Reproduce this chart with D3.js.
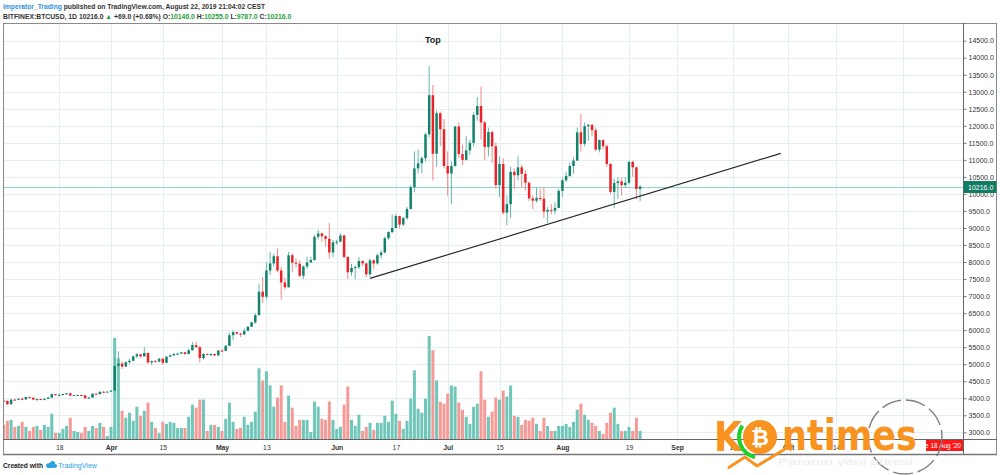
<!DOCTYPE html>
<html><head><meta charset="utf-8">
<script src="https://cdn.jsdelivr.net/npm/d3@7"></script>
<style>html,body{margin:0;padding:0;background:#fff;}svg{display:block;}</style>
</head><body>
<svg id="c" width="1000" height="475"></svg>
<script>
// ---------- DATA (BITFINEX:BTCUSD daily, 2019-03-03 .. 2019-08-22) ----------
const startDate = "2019-03-03";
const opens = [
 3930,3920,3825,3960,3955,3985,3965,4035,4015,3960,3975,3965,3980,4020,4120,4095,4100,4125,4145,4080,4090,4095,4085,4000,4020,4135,4120,4190,4180,
 4195,4225,4950,5020,4930,5060,5100,5230,5290,5230,5330,5050,5090,5080,5160,5040,5220,5260,5300,5310,5350,5300,5410,5560,5500,5180,5300,5290,5300,5260,
 5400,5390,5540,5850,5940,5900,5870,5980,6100,6230,6440,7130,6980,7750,7960,8170,7750,7400,7260,8200,7980,7950,7600,7870,7990,8060,8740,8840,8760,8680,8280,
 8580,8600,8780,8150,7700,7830,7850,8030,7960,7640,8050,7960,8200,8280,8700,8880,9000,9350,9100,9290,9560,10200,10750,10900,11050,11750,12900,11180,12370,11900,
 10820,10600,10820,11980,11170,11000,11280,11500,12320,12580,12100,11380,11820,11400,10260,10880,9450,9700,10650,10550,10780,10590,10330,9870,9800,9880,9860,9480,9530,9510,9590,
 10090,10400,10530,10820,10980,11810,11470,11990,12030,11870,11300,11580,11400,10880,10060,10320,10370,10260,10330,10940,10780,10146
];
const highs = [
 3950,3940,3975,3990,4000,4030,4045,4040,4025,3995,3990,4010,4030,4140,4125,4140,4135,4155,4160,4100,4105,4100,4095,4030,4140,4145,4200,4210,4200,
 4240,5200,5380,5080,5080,5160,5260,5330,5300,5500,5350,5110,5120,5180,5190,5240,5290,5330,5340,5370,5360,5460,5650,5660,5540,5330,5320,5320,5310,5420,
 5440,5560,5930,6000,5960,5920,6050,6120,6250,6500,7350,7560,8000,8300,8250,8400,7850,7550,8300,8250,8100,8050,7900,8150,8150,8800,8950,8860,8780,9150,8650,
 8650,8850,8800,8170,7950,7900,8150,8050,7980,8100,8080,8250,8350,8750,8900,9400,9420,9360,9320,9620,10250,11250,11300,11100,11800,13760,13200,12450,12420,12200,
 11250,10950,12000,12100,11450,11700,11600,12400,12850,13150,12150,11950,11850,11500,11100,11050,9950,10800,10750,11100,10850,10700,10350,9950,10180,10150,10200,9620,9700,9750,10150,
 10480,10650,10920,11080,11950,12350,12100,12060,12050,11950,11600,11600,11450,10900,10450,10500,10480,10500,10980,10980,10800,10255
];
const lows = [
 3890,3800,3815,3935,3945,3940,3960,3995,3945,3930,3950,3940,3975,4015,4075,4070,4085,4100,4050,4070,4080,4070,3970,3990,4015,4110,4110,4170,4175,
 4180,4215,4900,4860,4920,5010,5090,5180,5180,5220,5010,4970,5060,5050,4980,5030,5210,5250,5260,5300,5270,5290,5400,5480,5050,5130,5270,5240,5230,5250,
 5370,5380,5530,5700,5860,5800,5860,5960,6090,6180,6430,6800,6900,7620,7860,7700,6900,7200,7250,7700,7850,7550,7500,7800,7980,8040,8660,8600,8450,8100,8150,
 8500,8580,8100,7500,7600,7500,7800,7880,7550,7560,7800,7920,8100,8250,8650,8850,8990,8980,9050,9240,9540,10050,10600,10600,10950,11650,10400,10800,11400,10750,
 9950,9700,10800,11050,10850,10980,11150,11400,12150,11600,11000,11100,10900,10150,9900,9400,9080,9300,10150,10400,10200,10100,9800,9550,9750,9800,9300,9150,9400,9400,9580,
 9900,10350,10500,10600,10970,11250,11400,11550,11700,11250,11220,11300,10800,10000,9580,9850,9950,10180,10280,10500,9850,9787
];
const closes = [
 3920,3825,3960,3955,3985,3965,4035,4015,3960,3975,3965,3980,4020,4120,4095,4100,4125,4145,4080,4090,4095,4085,4000,4020,4135,4120,4190,4180,4195,
 4225,4950,5020,4930,5060,5100,5230,5290,5230,5330,5050,5090,5080,5160,5040,5220,5260,5300,5310,5350,5300,5410,5560,5500,5180,5300,5290,5300,5260,5400,
 5390,5540,5850,5940,5900,5870,5980,6100,6230,6440,7130,6980,7750,7960,8170,7750,7400,7260,8200,7980,7950,7600,7870,7990,8060,8740,8840,8760,8680,8280,8580,
 8600,8780,8150,7700,7830,7850,8030,7960,7640,8050,7960,8200,8280,8700,8880,9000,9350,9100,9290,9560,10200,10750,10900,11050,11750,12900,11180,12370,11900,10820,
 10600,10820,11980,11170,11000,11280,11500,12320,12580,12100,11380,11820,11400,10260,10880,9450,9700,10650,10550,10780,10590,10330,9870,9800,9880,9860,9480,9530,9510,9590,10090,
 10400,10530,10820,10980,11810,11470,11990,12030,11870,11300,11580,11400,10880,10060,10320,10370,10260,10330,10940,10780,10146,10216
];
const volumes = [ // thousands
 14,18,19,12,13,17,12,8,12,13,9,14,12,25,6,6,10,13,21,8,7,6,12,8,13,11,16,12,3,
 12,100,80,28,21,26,18,32,23,28,36,17,11,6,17,15,17,16,11,11,11,22,34,31,39,39,8,14,14,12,
 8,20,36,17,10,11,22,14,17,27,70,58,67,53,32,41,53,17,43,31,13,19,19,19,7,37,32,20,19,37,19,
 10,12,34,52,19,13,24,8,12,16,9,16,16,23,17,38,25,18,10,18,40,68,30,26,40,102,88,58,37,35,
 45,53,52,36,29,22,15,32,35,67,39,22,27,41,39,48,42,53,23,22,14,19,18,21,15,8,21,13,8,8,13,
 13,15,12,17,29,35,24,19,16,13,8,5,16,26,31,15,8,8,12,8,21,8
];
const priceTicks = [3000,3500,4000,4500,5000,5500,6000,6500,7000,7500,8000,8500,9000,9500,10000,10500,11000,11500,12000,12500,13000,13500,14000,14500];
const timeTickDates = ["2019-03-18","2019-04-01","2019-04-15","2019-05-01","2019-05-13","2019-06-01","2019-06-17","2019-07-01","2019-07-15","2019-08-01","2019-08-19","2019-09-01","2019-09-16","2019-10-01","2019-10-14"];
const timeTickLabels = ["18","Apr","15","May","13","Jun","17","Jul","15","Aug","19","Sep","16","Oct","14"];
const extraGridDates = ["2019-11-01"];
const trendDates = ["2019-06-10","2019-09-29"];
const trendValues = [7520, 11190];
const lastPrice = 10216.0;
const noteDate = "2019-06-27", noteValue = 14430, noteText = "Top";

// ---------- LAYOUT ----------
const svg = d3.select("#c");
const L = 3, R = 963, T = 23, B = 439, FR = 997, FB = 454;
const FONT = "'Liberation Sans', Arial, sans-serif";
const parse = s => new Date(s + "T00:00:00Z");
const x = d3.scaleUtc().domain([parse("2019-04-01"), parse("2019-10-01")]).range([111, 788.1]);
const y = d3.scaleLinear().domain([3000, 14500]).range([432.3, 40.7]);
const vy = d3.scaleLinear().domain([0, 100]).range([B, 338]);

const t0 = parse(startDate).getTime();
const data = opens.map((o, i) => ({
  date: new Date(t0 + i * 864e5), o, h: highs[i], l: lows[i], c: closes[i], v: volumes[i]
}));

const GREEN = "#11836a", RED = "#ec2229";
const GREEN_W = "#63b9a7", RED_W = "#f28686";
const VGREEN = "#70c6b8", VRED = "#f59a96";

svg.append("defs").append("clipPath").attr("id", "plot")
  .append("rect").attr("x", L).attr("y", T).attr("width", R - L).attr("height", B - T);

// grid
const grid = svg.append("g");
grid.selectAll("line.h").data(priceTicks).join("line")
  .attr("x1", L).attr("x2", R).attr("y1", d => Math.round(y(d)) + 0.5).attr("y2", d => Math.round(y(d)) + 0.5)
  .attr("stroke", "#e5eef4").attr("stroke-width", 1);
grid.selectAll("line.v").data(timeTickDates.concat(extraGridDates).map(parse)).join("line")
  .attr("x1", d => Math.round(x(d)) + 0.5).attr("x2", d => Math.round(x(d)) + 0.5)
  .attr("y1", T).attr("y2", B).attr("stroke", "#e5eef4").attr("stroke-width", 1);

const plot = svg.append("g").attr("clip-path", "url(#plot)");

// volume
plot.append("g").selectAll("rect").data(data).join("rect")
  .attr("x", d => x(d.date) - 1.5).attr("width", 3)
  .attr("y", d => vy(d.v)).attr("height", d => B - vy(d.v))
  .attr("fill", d => d.c >= d.o ? VGREEN : VRED);

// last price line (light teal, fine dotted)
const lpY = Math.round(y(lastPrice)) + 0.5;
plot.append("rect").attr("x", L).attr("y", lpY - 0.5).attr("width", R - L).attr("height", 1)
  .attr("fill", "#8fd6cb");

// candles
const cg = plot.append("g");
cg.selectAll("line").data(data).join("line")
  .attr("x1", d => x(d.date)).attr("x2", d => x(d.date))
  .attr("y1", d => y(d.h)).attr("y2", d => y(d.l))
  .attr("stroke", d => d.c >= d.o ? GREEN_W : RED_W).attr("stroke-width", 1);
cg.selectAll("rect").data(data).join("rect")
  .attr("x", d => x(d.date) - 1.25).attr("width", 2.5)
  .attr("y", d => y(Math.max(d.o, d.c)))
  .attr("height", d => Math.max(1, Math.abs(y(d.o) - y(d.c))))
  .attr("fill", d => d.c >= d.o ? GREEN : RED);

// trend line
svg.append("line")
  .attr("x1", x(parse(trendDates[0]))).attr("y1", y(trendValues[0]))
  .attr("x2", x(parse(trendDates[1]))).attr("y2", y(trendValues[1]))
  .attr("stroke", "#2a2a2a").attr("stroke-width", 1.2);

// note
svg.append("text").attr("x", x(parse(noteDate))).attr("y", y(noteValue))
  .attr("text-anchor", "middle").attr("font-family", FONT).attr("font-weight", "bold")
  .attr("font-size", 9).attr("fill", "#222").text(noteText);

// frame
svg.append("rect").attr("x", L + 0.5).attr("y", T + 0.5).attr("width", FR - L - 1).attr("height", FB - T)
  .attr("fill", "none").attr("stroke", "#8a8a8a").attr("stroke-width", 1);
svg.append("line").attr("x1", R + 0.5).attr("x2", R + 0.5).attr("y1", T).attr("y2", FB)
  .attr("stroke", "#666");
svg.append("line").attr("x1", L).attr("x2", FR).attr("y1", B + 0.5).attr("y2", B + 0.5)
  .attr("stroke", "#666");
svg.append("line").attr("x1", L).attr("x2", FR).attr("y1", FB + 0.5).attr("y2", FB + 0.5)
  .attr("stroke", "#777").attr("stroke-width", 1.5);

// price axis
const ya = svg.append("g").attr("transform", `translate(${R + 0.5},0)`)
  .call(d3.axisRight(y).tickValues(priceTicks).tickSize(3).tickPadding(2).tickFormat(d3.format(".1f")));
ya.select(".domain").remove();
ya.selectAll("line").attr("stroke", "#777");
ya.selectAll("text").attr("font-family", FONT).attr("font-size", 7).attr("fill", "#333");

// last price label
svg.append("rect").attr("x", R + 0.5).attr("y", lpY - 6.5).attr("width", FR - R - 1).attr("height", 12)
  .attr("fill", "#127c63");
svg.append("text").attr("x", R + 5).attr("y", lpY + 2.5).attr("font-family", FONT)
  .attr("font-size", 7).attr("fill", "#fff").text(lastPrice.toFixed(1));

// time axis
const xa = svg.append("g").attr("transform", `translate(0,${B})`)
  .call(d3.axisBottom(x).tickValues(timeTickDates.map(parse)).tickSize(0).tickPadding(6)
    .tickFormat((d, i) => timeTickLabels[i]));
xa.select(".domain").remove();
xa.selectAll("text").attr("font-family", FONT).attr("font-size", 6.8).attr("fill", "#333")
  .attr("font-weight", (d, i) => /^[A-Z]/.test(timeTickLabels[i]) ? "bold" : "normal");

// crosshair date label (bottom right)
svg.append("clipPath").attr("id", "dl").append("rect").attr("x", 926).attr("y", B).attr("width", 37).attr("height", 12);
svg.append("rect").attr("x", 926).attr("y", B + 1).attr("width", 37).attr("height", 11).attr("fill", "#ff1717");
svg.append("text").attr("clip-path", "url(#dl)").attr("x", 961).attr("y", B + 9).attr("text-anchor", "end")
  .attr("font-family", FONT).attr("font-size", 6.5).attr("fill", "#fff").text("Tue 18 Aug '20");

// header
const h1 = svg.append("text").attr("x", 3).attr("y", 9).attr("font-family", FONT)
  .attr("font-size", 7.4).attr("font-weight", "bold").attr("textLength", 262).attr("lengthAdjust", "spacingAndGlyphs");
h1.append("tspan").attr("fill", "#2f93dd").text("Imperator_Trading");
h1.append("tspan").attr("fill", "#333").text(" published on TradingView.com, August 22, 2019 21:04:02 CEST");
const h2 = svg.append("text").attr("x", 3).attr("y", 19).attr("font-family", FONT)
  .attr("font-size", 6.8).attr("font-weight", "bold");
const G = "#22a33a", D = "#333";
[["BITFINEX:BTCUSD, 1D  10216.0 ", D], ["▲", "#1f9b3d"], [" +69.0 (+0.68%) O:", D], ["10146.0", G], [" H:", D],
 ["10255.0", G], [" L:", D], ["9787.0", G], [" C:", D], ["10216.0", G]]
  .forEach(([t, c]) => h2.append("tspan").attr("fill", c).text(t));

// footer
svg.append("text").attr("x", 3).attr("y", 468).attr("font-family", FONT).attr("font-size", 7)
  .attr("font-weight", "bold").attr("fill", "#222").attr("textLength", 40).attr("lengthAdjust", "spacingAndGlyphs")
  .text("Created with");
const logo = svg.append("g").attr("fill", "#2ba3e0");
logo.append("ellipse").attr("cx", 50).attr("cy", 465.5).attr("rx", 4).attr("ry", 2.6);
logo.append("circle").attr("cx", 52.5).attr("cy", 463.5).attr("r", 2.6);
logo.append("ellipse").attr("cx", 54.5).attr("cy", 466).attr("rx", 2.6).attr("ry", 2);
svg.append("text").attr("x", 58).attr("y", 468).attr("font-family", FONT).attr("font-size", 7.5)
  .attr("fill", "#2ba3e0").attr("textLength", 39).attr("lengthAdjust", "spacingAndGlyphs").text("TradingView");

// watermark
const wm = svg.append("g");
wm.append("circle").attr("cx", 905).attr("cy", 437).attr("r", 37).attr("fill", "none")
  .attr("stroke", "#7d7d7d").attr("stroke-width", 1.4).attr("stroke-dasharray", "20,5");
const ORANGE = "#f7931e";
wm.append("text").attr("x", 714).attr("y", 451).attr("font-family", "'DejaVu Sans', sans-serif")
  .attr("font-weight", "bold").attr("font-size", 40).attr("fill", ORANGE)
  .attr("textLength", 28).attr("lengthAdjust", "spacingAndGlyphs").text("K");
wm.append("path").attr("d", d3.arc()({innerRadius: 19, outerRadius: 23, startAngle: -2.9, endAngle: -1.0}))
  .attr("transform", "translate(760,437)").attr("fill", "#1fd32a");
wm.append("circle").attr("cx", 760).attr("cy", 437).attr("r", 17).attr("fill", ORANGE);
wm.append("text").attr("x", 760).attr("y", 445).attr("text-anchor", "middle")
  .attr("font-family", "'DejaVu Sans', sans-serif").attr("font-weight", "bold").attr("font-size", 22)
  .attr("fill", "#fff").text("₿");
wm.append("polyline").attr("points", "728,468 745,457 757,466 790,446")
  .attr("fill", "none").attr("stroke", ORANGE).attr("stroke-width", 3).attr("stroke-linejoin", "miter");
wm.append("path").attr("d", "M784,444 L793,444 L791,452 Z").attr("fill", ORANGE);
wm.append("text").attr("x", 782).attr("y", 450).attr("font-family", "'DejaVu Sans', sans-serif")
  .attr("font-weight", "bold").attr("font-size", 42).attr("fill", ORANGE)
  .attr("textLength", 135).attr("lengthAdjust", "spacingAndGlyphs").text("ntimes");
wm.append("text").attr("x", 778).attr("y", 465).attr("font-family", FONT).attr("font-size", 9)
  .attr("fill", "#ececec").attr("textLength", 135).attr("lengthAdjust", "spacingAndGlyphs").text("Paranın yeni adresi");
</script>
</body></html>
